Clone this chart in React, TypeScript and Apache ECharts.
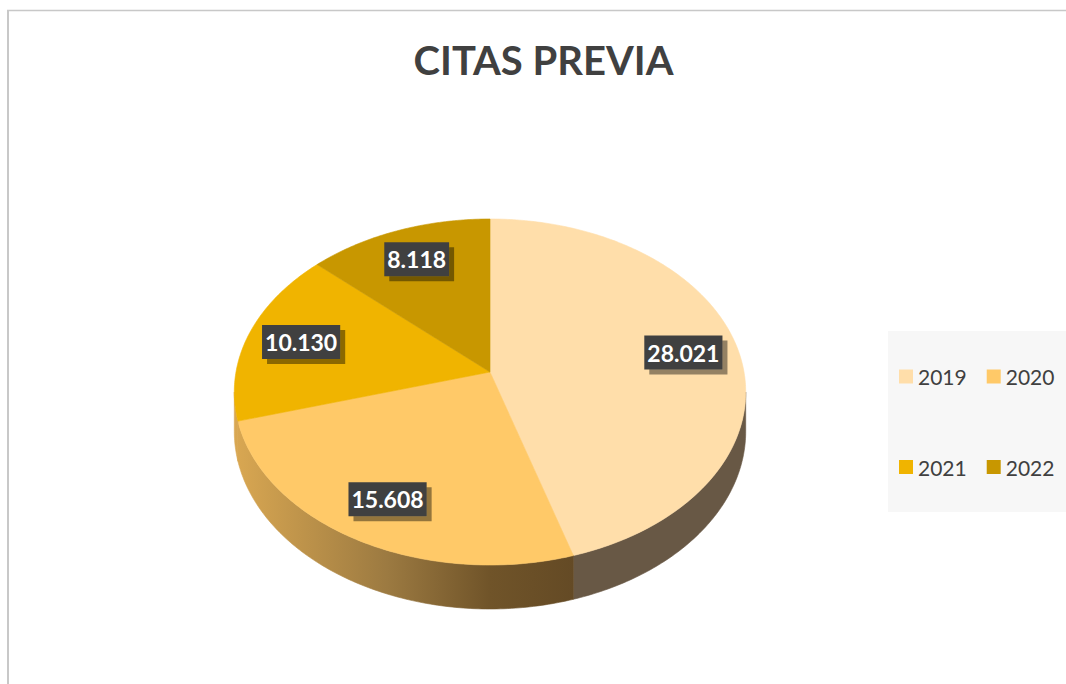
import React, { useEffect, useRef } from 'react';
import * as echarts from 'echarts';

const TITLE = 'CITAS PREVIA';
const CATEGORIES = ['2019', '2020', '2021', '2022'];
const VALUES = [28021, 15608, 10130, 8118];
const TOP_COLORS = ['#FFDEAA', '#FFC968', '#F0B400', '#C89700'];

function fmt(v: number): string {
  return String(v).replace(/\B(?=(\d{3})+(?!\d))/g, '.');
}

export default function App() {
  const ref = useRef<HTMLDivElement>(null);

  useEffect(() => {
    const chart = echarts.init(ref.current!, null, { renderer: 'svg' });
    const total = VALUES.reduce((a, b) => a + b, 0);

    // pseudo-3D projection of the pie disk
    const CX = 490, CY = 372, A = 254, B = 170.7, K = 0.1156, H = 38.9;
    const rad = (d: number) => (d * Math.PI) / 180;
    const proj = (deg: number, r: number, drop: number): number[] => {
      const u = r * Math.sin(rad(deg));
      const v = r * Math.cos(rad(deg));
      const d = 1 + K * v;
      return [CX + (A * u) / d, CY - (B * v) / d + (H * drop) / d];
    };
    const arc = (a: number, b: number, drop: number): number[][] => {
      const pts: number[][] = [];
      const n = Math.max(2, Math.ceil((b - a) / 0.75));
      for (let j = 0; j <= n; j++) pts.push(proj(a + ((b - a) * j) / n, 1, drop));
      return pts;
    };
    const FRONT_L = (Math.acos(-K) * 180) / Math.PI;
    const FRONT_R = 360 - FRONT_L;

    const warmSide = new echarts.graphic.LinearGradient(
      233, 0, 575, 0,
      [
        { offset: 0, color: '#DAA852' },
        { offset: 0.45, color: '#9C7A41' },
        { offset: 0.75, color: '#705429' },
        { offset: 1, color: '#644A25' },
      ],
      true
    );
    const SIDE_FILLS: any[] = ['#685845', warmSide, warmSide, '#8C6A10'];

    const labelStyle = {
      fontFamily: 'Lato',
      fontWeight: 'bold',
      fontSize: 23,
      lineHeight: 25,
      padding: [5, 3, 4, 3],
      align: 'center',
      verticalAlign: 'middle',
      fill: '#FFFFFF',
      backgroundColor: '#404040',
      shadowColor: 'rgba(0,0,0,0.42)',
      shadowBlur: 0,
      shadowOffsetX: 5,
      shadowOffsetY: 5,
    };

    const series = CATEGORIES.map((name, i) => ({
      type: 'custom',
      name,
      coordinateSystem: 'none',
      itemStyle: { color: TOP_COLORS[i] },
      data: [VALUES[i]],
      renderItem: (params: any, api: any) => {
        const before = VALUES.slice(0, i).reduce((a, b) => a + b, 0);
        const val = api.value(0) as number;
        const start = (before / total) * 360;
        const end = ((before + val) / total) * 360;
        const children: any[] = [];
        const a = Math.max(start, FRONT_L);
        const b = Math.min(end, FRONT_R);
        if (b > a) {
          const top = arc(a, b, 0);
          const bot = arc(a, b, 1).reverse();
          children.push({
            type: 'polygon',
            shape: { points: top.concat(bot) },
            style: { fill: SIDE_FILLS[i], stroke: SIDE_FILLS[i], lineWidth: 0.6 },
          });
        }
        children.push({
          type: 'polygon',
          shape: { points: [proj(0, 0, 0)].concat(arc(start, end, 0)) },
          style: { fill: TOP_COLORS[i], stroke: TOP_COLORS[i], lineWidth: 0.6 },
        });
        const mid = (start + end) / 2;
        const p = proj(mid, 0.78, 0);
        children.push({
          type: 'text',
          x: p[0],
          y: p[1],
          z2: 60,
          style: { text: fmt(val), ...labelStyle },
        });
        return { type: 'group', children };
      },
    }));

    const legendBase = {
      orient: 'horizontal',
      left: 899,
      icon: 'rect',
      itemWidth: 14,
      itemHeight: 14,
      itemGap: 20,
      padding: 0,
      selectedMode: false,
      textStyle: { fontSize: 21, color: '#404040', fontFamily: 'Lato' },
    };

    chart.setOption({
      animation: false,
      color: TOP_COLORS,
      title: {
        text: TITLE,
        left: 543.5,
        top: 40,
        textAlign: 'center',
        padding: 0,
        textStyle: { fontSize: 40, fontWeight: 'bold', color: '#404040', fontFamily: 'Lato' },
      },
      legend: [
        { ...legendBase, data: CATEGORIES.slice(0, 2), top: 366 },
        { ...legendBase, data: CATEGORIES.slice(2, 4), top: 456.5 },
      ],
      graphic: [
        { type: 'rect', z: -10, shape: { x: 888, y: 331, width: 178, height: 181 }, style: { fill: '#F7F7F7' } },
        { type: 'line', shape: { x1: 7, y1: 10.5, x2: 1066, y2: 10.5 }, style: { stroke: '#C8C8C8', lineWidth: 1.5 } },
        { type: 'line', shape: { x1: 8, y1: 10, x2: 8, y2: 684 }, style: { stroke: '#C8C8C8', lineWidth: 2 } },
      ],
      series,
    } as any);

    return () => chart.dispose();
  }, []);

  return (
    <div
      ref={ref}
      style={{ position: 'absolute', left: 0, top: 0, width: 1066, height: 684, background: '#FFFFFF' }}
    />
  );
}
